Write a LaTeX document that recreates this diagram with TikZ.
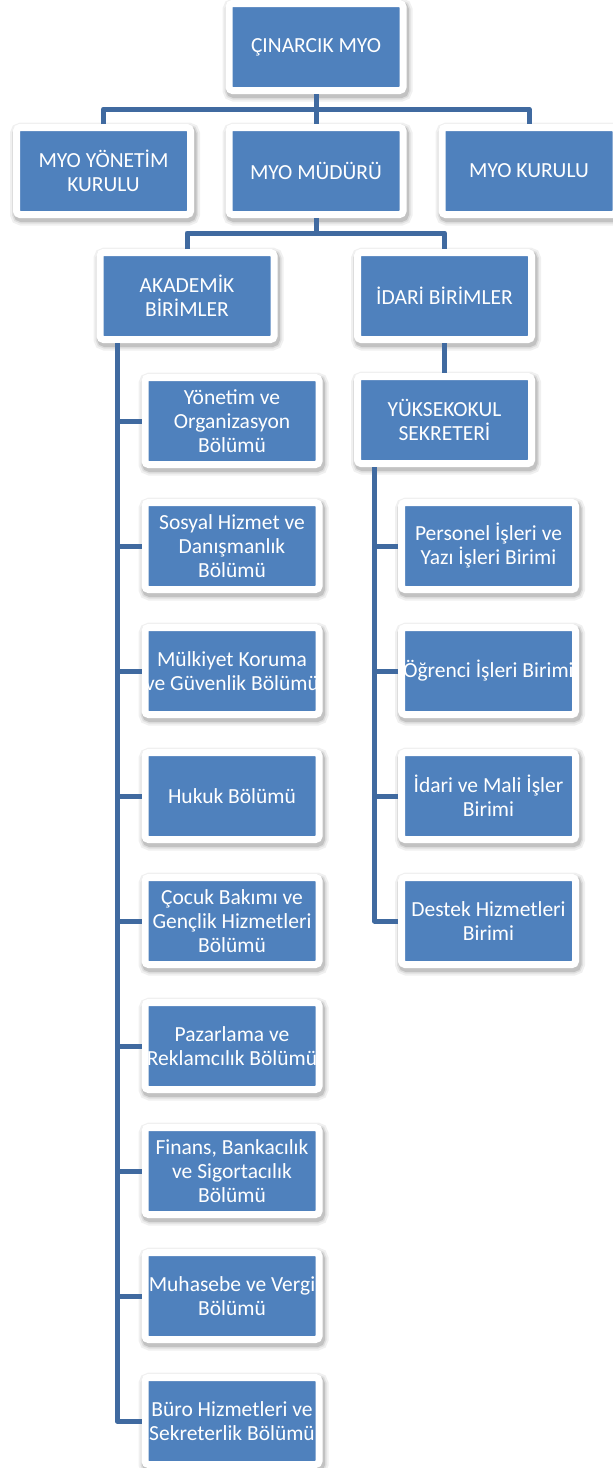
\documentclass[tikz,border=0pt]{standalone}
\usepackage{fontspec}
\setmainfont{Carlito}
\usetikzlibrary{calc}
\definecolor{boxblue}{HTML}{4F81BD}
\definecolor{lineblue}{RGB}{64,106,160}
\tikzset{
  orgbox/.style={rectangle, fill=boxblue, draw=white, line width=7pt,
    rounded corners=3.5pt, minimum width=174pt, minimum height=87pt,
    inner sep=0pt, text=white, align=center,
    font=\fontsize{21.5}{24}\selectfont,
    preaction={draw=black, draw opacity=0.06, line width=16pt,
      transform canvas={shift={(1.5pt,-3pt)}}},
    preaction={draw=black, draw opacity=0.08, line width=12pt,
      transform canvas={shift={(1.5pt,-3pt)}}},
    preaction={draw=black, draw opacity=0.12, line width=9pt,
      transform canvas={shift={(1.5pt,-3pt)}}}},
  conn/.style={draw=lineblue, line width=5pt, line join=round}
}
\begin{document}
\begin{tikzpicture}[x=1pt,y=-1pt]
\useasboundingbox (0,0) rectangle (613,1468);
% top
\node[orgbox] (top) at (316,47) {ÇINARCIK MYO};
% row 2
\node[orgbox] (yon) at (103.5,171) {MYO YÖNETİM\\KURULU};
\node[orgbox] (mud) at (316,171) {MYO MÜDÜRÜ};
\node[orgbox] (kur) at (529,171) {MYO KURULU};
% row 3
\node[orgbox] (akad) at (187,296) {AKADEMİK\\BİRİMLER};
\node[orgbox] (idari) at (444.5,296) {İDARİ BİRİMLER};
\node[orgbox] (yuk) at (444.5,420) {YÜKSEKOKUL\\SEKRETERİ};
% academic
\node[orgbox] (a1) at (232,421) {Yönetim ve\\Organizasyon\\Bölümü};
\node[orgbox] (a2) at (232,546) {Sosyal Hizmet ve\\Danışmanlık\\Bölümü};
\node[orgbox] (a3) at (232,671) {Mülkiyet Koruma\\ve Güvenlik Bölümü};
\node[orgbox] (a4) at (232,796) {Hukuk Bölümü};
\node[orgbox] (a5) at (232,921) {Çocuk Bakımı ve\\Gençlik Hizmetleri\\Bölümü};
\node[orgbox] (a6) at (232,1046) {Pazarlama ve\\Reklamcılık Bölümü};
\node[orgbox] (a7) at (232,1171) {Finans, Bankacılık\\ve Sigortacılık\\Bölümü};
\node[orgbox] (a8) at (232,1296) {Muhasebe ve Vergi\\Bölümü};
\node[orgbox] (a9) at (232,1421) {Büro Hizmetleri ve\\Sekreterlik Bölümü};
% administrative
\node[orgbox] (b1) at (488.5,546) {Personel İşleri ve\\Yazı İşleri Birimi};
\node[orgbox] (b2) at (488.5,671) {Öğrenci İşleri Birimi};
\node[orgbox] (b3) at (488.5,796) {İdari ve Mali İşler\\Birimi};
\node[orgbox] (b4) at (488.5,921) {Destek Hizmetleri\\Birimi};
% bus coordinates
\coordinate (bus1) at (316,109);
\coordinate (bus2) at (316,233);
\coordinate (lsp) at ([xshift=20.5pt]akad.south west);
\coordinate (rsp) at ([xshift=20.5pt]yuk.south west);
% connectors
\draw[conn] (top.south) -- (mud.north);
\draw[conn] (yon.north) |- (bus1) -| (kur.north);
\draw[conn] (mud.south) -- (bus2);
\draw[conn] (akad.north) |- (bus2) -| (idari.north);
\draw[conn] (idari.south) -- (yuk.north);
\draw[conn] (lsp) |- (a9.west);
\foreach \n in {a1,a2,a3,a4,a5,a6,a7,a8}
  \draw[conn] (\n.west) -- (\n.west -| lsp);
\draw[conn] (rsp) |- (b4.west);
\foreach \n in {b1,b2,b3}
  \draw[conn] (\n.west) -- (\n.west -| rsp);
\end{tikzpicture}
\end{document}
